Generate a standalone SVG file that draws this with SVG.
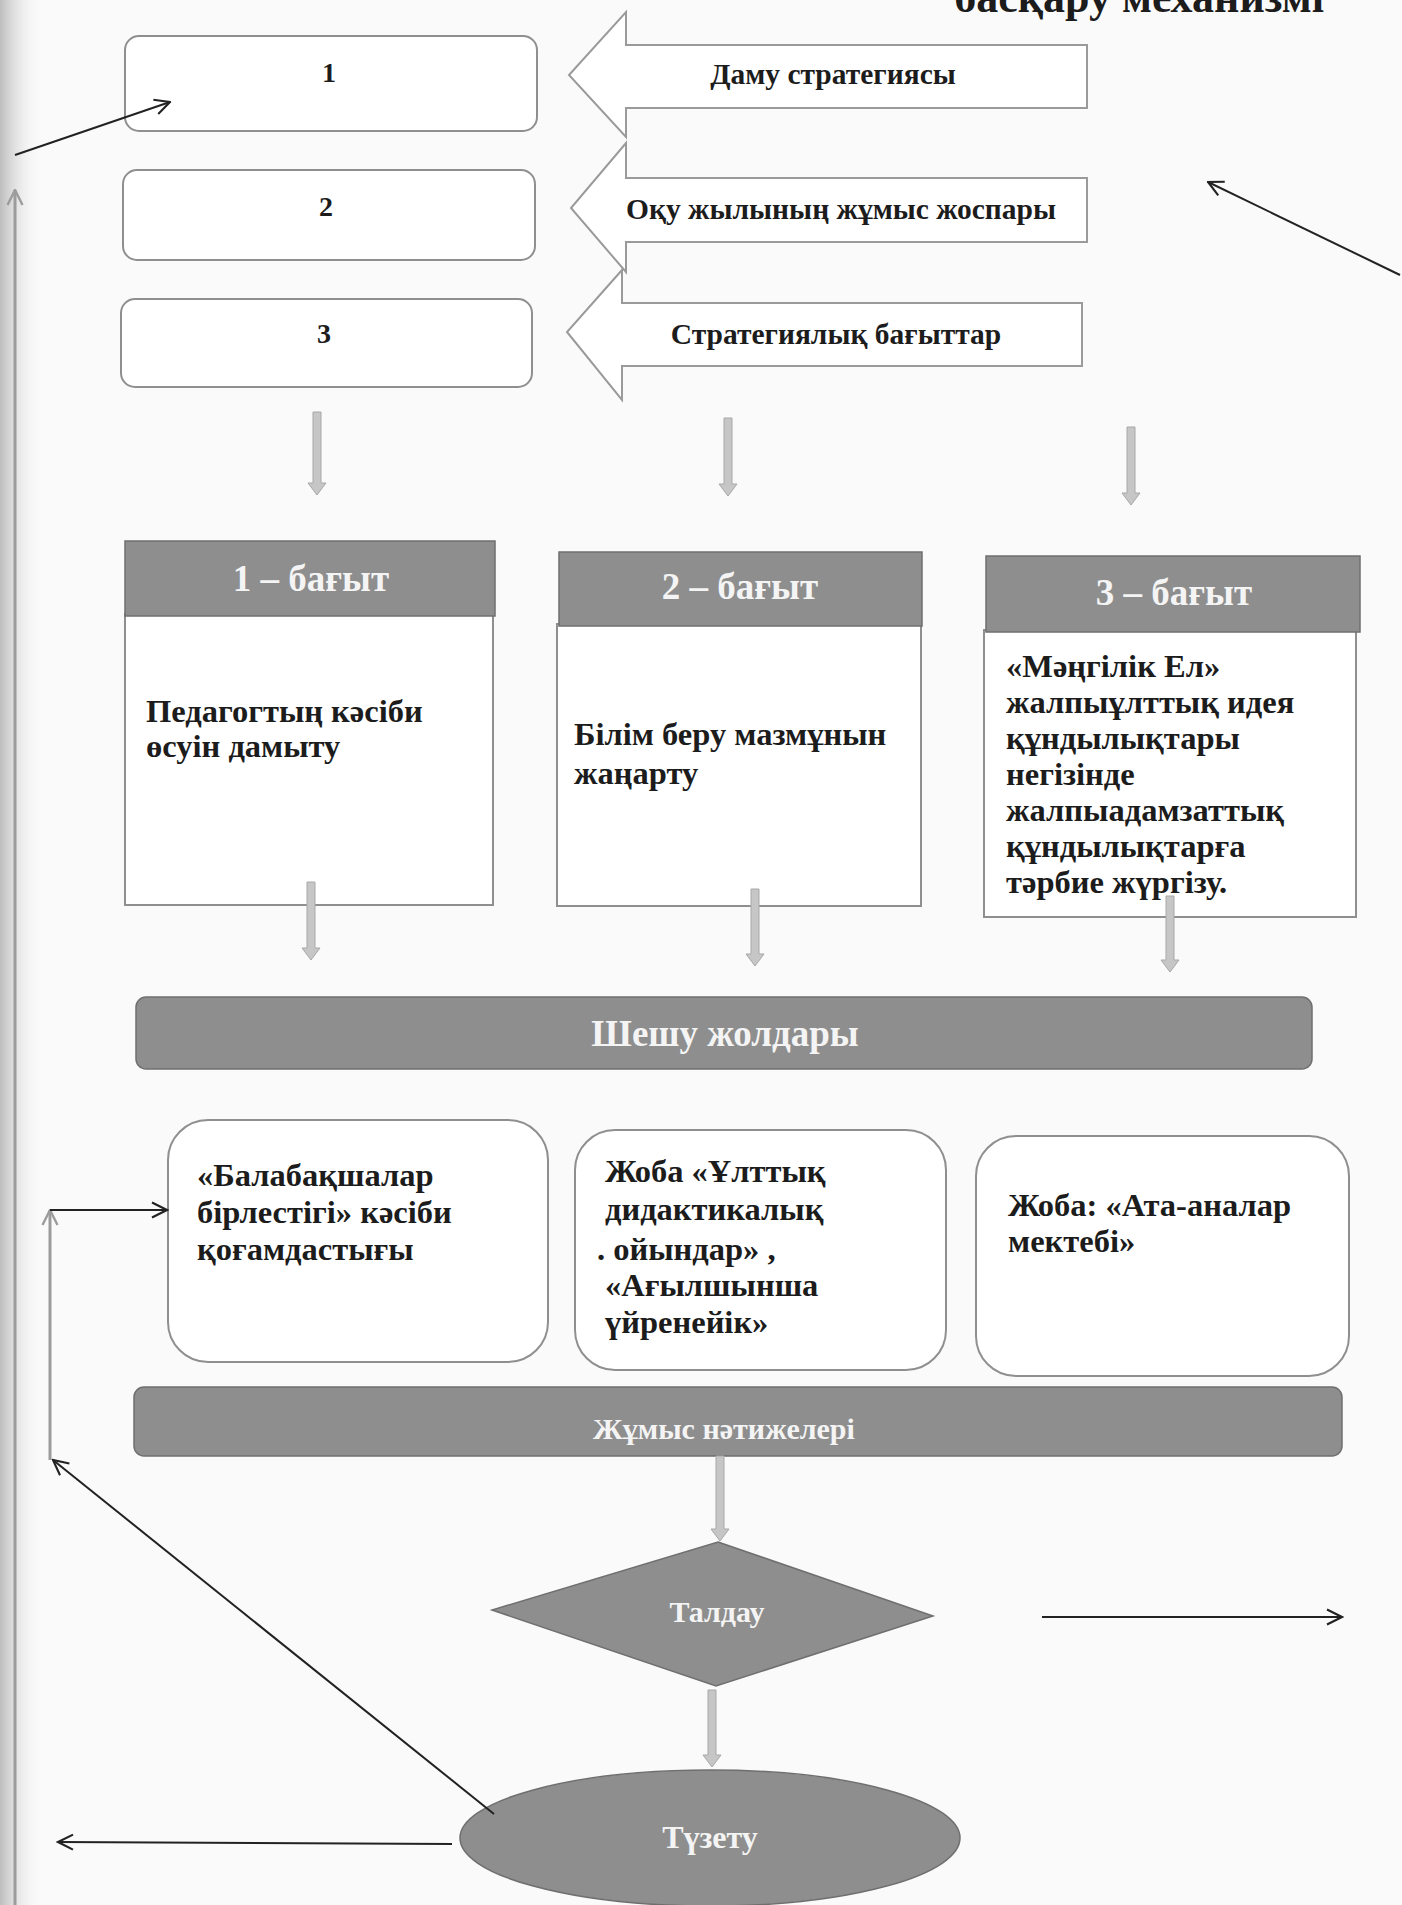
<svg xmlns="http://www.w3.org/2000/svg" width="1402" height="1905" viewBox="0 0 1402 1905">
<style>
.box{fill:#ffffff;stroke:#8f8f8f;stroke-width:2}
.barr{fill:#ffffff;stroke:#9a9a9a;stroke-width:2}
.dark{fill:#8e8e8e;stroke:#6f6f6f;stroke-width:1.5}
.t{font-family:"Liberation Serif","Times New Roman",serif;font-weight:bold;fill:#1c1c1c}
.w{font-family:"Liberation Serif","Times New Roman",serif;font-weight:bold;fill:#f4f4f4}
.body{font-size:32.5px}
.g{fill:#c6c6c6;stroke:#a8a8a8;stroke-width:1}
.ln{fill:none;stroke:#222;stroke-width:2}
.lg{fill:none;stroke:#9c9c9c;stroke-width:3}
</style>
<defs>
<linearGradient id="edge" x1="0" y1="0" x2="1" y2="0">
<stop offset="0" stop-color="#bdbdbd"/>
<stop offset="1" stop-color="#f6f4f5" stop-opacity="0"/>
</linearGradient>
<marker id="open" viewBox="0 0 12 12" refX="11" refY="6" markerWidth="18" markerHeight="18" markerUnits="userSpaceOnUse" orient="auto">
<path d="M1,1 L11,6 L1,11" fill="none" stroke="#222" stroke-width="1.4"/>
</marker>
<marker id="openg" viewBox="0 0 12 12" refX="11" refY="6" markerWidth="18" markerHeight="18" markerUnits="userSpaceOnUse" orient="auto">
<path d="M1,1 L11,6 L1,11" fill="none" stroke="#9c9c9c" stroke-width="1.6"/>
</marker>
</defs>
<rect x="0" y="0" width="1402" height="1905" fill="#fbfafa"/>
<rect x="0" y="0" width="40" height="1905" fill="url(#edge)"/>
<text class="t" x="1324" y="12" font-size="44" text-anchor="end">басқару механизмі</text>

<g id="box1"><rect class="box" x="125" y="36" width="412" height="95" rx="14"/><text class="t" x="329" y="82" font-size="28" text-anchor="middle">1</text></g>
<g id="box2"><rect class="box" x="123" y="170" width="412" height="90" rx="14"/><text class="t" x="326" y="216" font-size="28" text-anchor="middle">2</text></g>
<g id="box3"><rect class="box" x="121" y="299" width="411" height="88" rx="14"/><text class="t" x="324" y="343" font-size="28" text-anchor="middle">3</text></g>

<g id="arrow1"><path class="barr" d="M1087 45 L626 45 L626 12 L569 75 L626 137 L626 108 L1087 108 Z"/><text class="t" x="833" y="84" font-size="29.5" text-anchor="middle">Даму стратегиясы</text></g>
<g id="arrow2"><path class="barr" d="M1087 178 L626 178 L626 143 L571 208 L626 272 L626 242 L1087 242 Z"/><text class="t" x="841" y="219" font-size="29.5" text-anchor="middle">Оқу жылының жұмыс жоспары</text></g>
<g id="arrow3"><path class="barr" d="M1082 303 L622 303 L622 270 L567 332 L622 400 L622 366 L1082 366 Z"/><text class="t" x="836" y="344" font-size="29.5" text-anchor="middle">Стратегиялық бағыттар</text></g>

<g id="dir1">
<rect class="box" x="125" y="614" width="368" height="291"/>
<rect class="dark" x="125" y="541" width="370" height="75"/>
<text class="w" x="311" y="591" font-size="37" text-anchor="middle">1 – бағыт</text>
<text class="t body" x="146" y="722">Педагогтың кәсіби</text>
<text class="t body" x="146" y="757">өсуін дамыту</text>
</g>
<g id="dir2">
<rect class="box" x="557" y="624" width="364" height="282"/>
<rect class="dark" x="559" y="552" width="363" height="74"/>
<text class="w" x="740" y="599" font-size="37" text-anchor="middle">2 – бағыт</text>
<text class="t body" x="574" y="745">Білім беру мазмұнын</text>
<text class="t body" x="574" y="784">жаңарту</text>
</g>
<g id="dir3">
<rect class="box" x="984" y="630" width="372" height="287"/>
<rect class="dark" x="986" y="556" width="374" height="76"/>
<text class="w" x="1174" y="605" font-size="37" text-anchor="middle">3 – бағыт</text>
<text class="t body" x="1006" y="677">«Мәңгілік Ел»</text>
<text class="t body" x="1006" y="713">жалпыұлттық идея</text>
<text class="t body" x="1006" y="749">құндылықтары</text>
<text class="t body" x="1006" y="785">негізінде</text>
<text class="t body" x="1006" y="821">жалпыадамзаттық</text>
<text class="t body" x="1006" y="857">құндылықтарға</text>
<text class="t body" x="1006" y="893">тәрбие жүргізу.</text>
</g>

<g id="bar1"><rect class="dark" x="136" y="997" width="1176" height="72" rx="10"/><text class="w" x="725" y="1046" font-size="37" text-anchor="middle">Шешу жолдары</text></g>

<g id="way1"><rect class="box" x="168" y="1120" width="380" height="242" rx="40"/>
<text class="t body" x="197" y="1186">«Балабақшалар</text>
<text class="t body" x="197" y="1223">бірлестігі» кәсіби</text>
<text class="t body" x="197" y="1260">қоғамдастығы</text></g>
<g id="way2"><rect class="box" x="575" y="1130" width="371" height="240" rx="40"/>
<text class="t body" x="605" y="1182">Жоба «Ұлттық</text>
<text class="t body" x="605" y="1220">дидактикалық</text>
<text class="t body" x="597" y="1260">. ойындар» ,</text>
<text class="t body" x="605" y="1296">«Ағылшынша</text>
<text class="t body" x="605" y="1333">үйренейік»</text></g>
<g id="way3"><rect class="box" x="976" y="1136" width="373" height="240" rx="40"/>
<text class="t body" x="1008" y="1216">Жоба: «Ата-аналар</text>
<text class="t body" x="1008" y="1252">мектебі»</text></g>

<g id="bar2"><rect class="dark" x="134" y="1387" width="1208" height="69" rx="10"/><text class="w" x="724" y="1439" font-size="30" text-anchor="middle">Жұмыс нәтижелері</text></g>

<g id="analysis"><path class="dark" d="M718 1542 L933 1616 L716 1686 L492 1610 Z"/><text class="w" x="717" y="1622" font-size="30" text-anchor="middle">Талдау</text></g>
<g id="correction"><ellipse class="dark" cx="710" cy="1838" rx="250" ry="68"/><text class="w" x="710" y="1848" font-size="32" text-anchor="middle">Түзету</text></g>

<g id="connectors">
<path class="g" d="M313 412 h8 v71 h5 l-9 12 l-9 -12 h5 Z"/>
<path class="g" d="M724 418 h8 v66 h5 l-9 12 l-9 -12 h5 Z"/>
<path class="g" d="M1127 427 h8 v66 h5 l-9 12 l-9 -12 h5 Z"/>
<path class="g" d="M307 882 h8 v66 h5 l-9 12 l-9 -12 h5 Z"/>
<path class="g" d="M751 889 h8 v65 h5 l-9 12 l-9 -12 h5 Z"/>
<path class="g" d="M1166 896 h8 v64 h5 l-9 12 l-9 -12 h5 Z"/>
<path class="g" d="M716 1456 h8 v73 h5 l-9 12 l-9 -12 h5 Z"/>
<path class="g" d="M708 1690 h8 v65 h5 l-9 12 l-9 -12 h5 Z"/>
<line class="ln" x1="15" y1="155" x2="170" y2="102" marker-end="url(#open)"/>
<line class="ln" x1="1400" y1="275" x2="1208" y2="182" marker-end="url(#open)"/>
<line class="lg" x1="15" y1="1905" x2="15" y2="190" stroke-width="4" marker-end="url(#openg)"/>
<line class="ln" x1="1042" y1="1617" x2="1342" y2="1617" marker-end="url(#open)"/>
<line class="ln" x1="452" y1="1844" x2="58" y2="1842" marker-end="url(#open)"/>
<line class="ln" x1="494" y1="1814" x2="53" y2="1460" marker-end="url(#open)"/>
<line class="lg" x1="50" y1="1460" x2="50" y2="1210" marker-end="url(#openg)"/>
<line class="ln" x1="50" y1="1210" x2="167" y2="1210" marker-end="url(#open)"/>
</g>
</svg>
